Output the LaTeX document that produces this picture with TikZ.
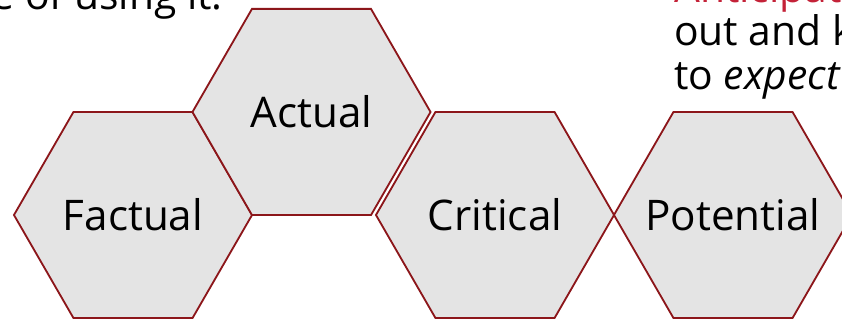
\documentclass[tikz,border=0pt]{standalone}
\usepackage{fontspec}
\setmainfont{Open Sans}
\usepackage{xcolor}
\usetikzlibrary{shapes.geometric}

\definecolor{hexred}{RGB}{140,22,26}
\definecolor{hexfill}{RGB}{228,228,228}
\definecolor{notered}{RGB}{196,34,56}

\begin{document}
\begin{tikzpicture}[
  x=0.025cm, y=-0.025cm,
  hexa/.style={regular polygon, regular polygon sides=6, minimum size=5.95cm, inner sep=0pt,
    outer sep=0pt, draw=hexred, fill=hexfill, line width=1.3pt},
  hexlabel/.style={label={[font=\fontsize{30}{36}\selectfont]center:#1}},
  note/.style={inner sep=0pt, font=\fontsize{29}{34}\selectfont}
]
\useasboundingbox (0,0) rectangle (842,321);
\clip (0,0) rectangle (842,321);

% cut-off text round the picture
\node[note, anchor=base east] (prev) at (223,10) {e of using it.};
\node[note, anchor=base west, text=notered] (antic) at (674,3) {Anticipate};
\node[note, anchor=base west] (outand) at (674,46) {out and know};
\node[note, anchor=base west] (expect) at (674,90) {to \textit{expect}};

% hexagons
\node[hexa, hexlabel=Factual] (factual) at (133,215) {};
\node[hexa, hexlabel=Actual] (actual) at (311.5,112) {};
\node[hexa, hexlabel=Critical] (critical) at (495,215) {};
\node[hexa, hexlabel=Potential] (potential) at (733,215) {};
\end{tikzpicture}
\end{document}
